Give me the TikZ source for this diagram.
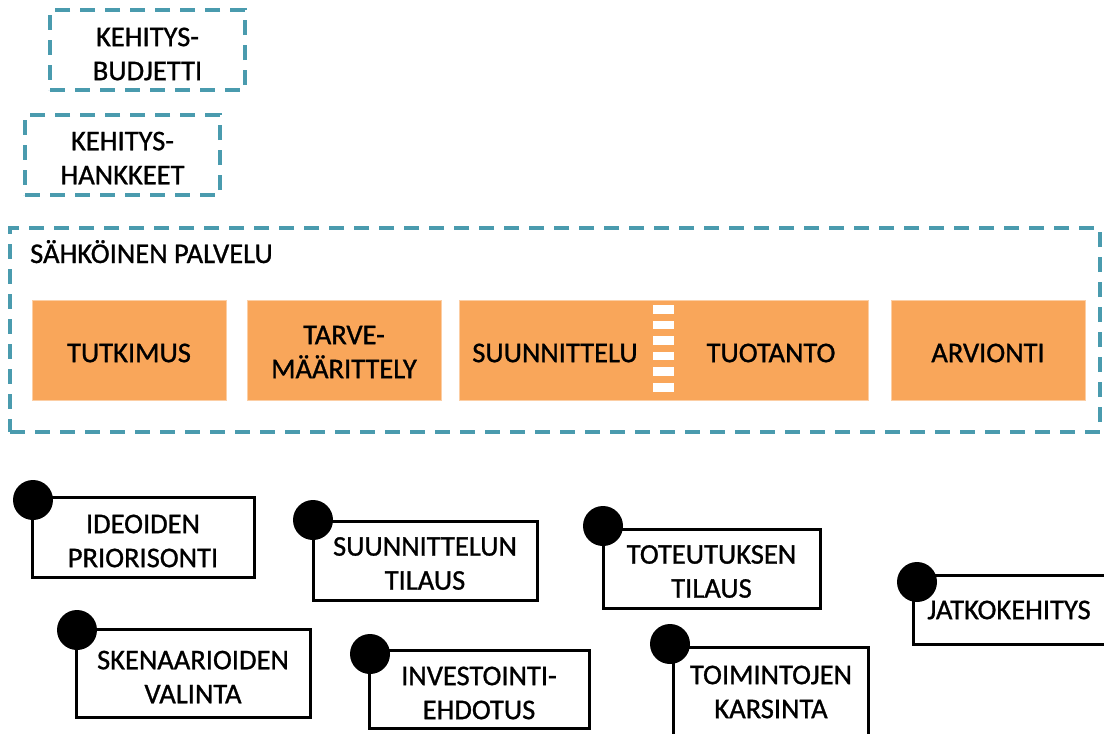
\documentclass[tikz,border=0pt]{standalone}
\usepackage{fontspec}
\setmainfont{Carlito}[FakeBold=1]
\definecolor{tealdash}{RGB}{74,155,174}
\definecolor{orng}{RGB}{249,166,90}
\begin{document}
\begin{tikzpicture}[x=1pt,y=-1pt,
 dbox/.style={draw=tealdash, line width=3.5pt, dash pattern=on 15pt off 10pt, inner sep=0pt},
 obox/.style={fill=orng, draw=orng!55!white, line width=0.8pt, inner sep=0pt},
 bbox/.style={draw=black, line width=3pt, inner sep=0pt},
 dot/.style={circle, fill=black, minimum size=40pt, inner sep=0pt},
 txt/.style={align=center, font=\fontsize{28.5}{34}\selectfont, inner sep=0pt},
 sep/.style={fill=white, draw=none},
]
\useasboundingbox (0,0) rectangle (1104,734);
\clip (0,0) rectangle (1104,734);

% top dashed boxes
\node[dbox, minimum width=195pt, minimum height=80pt] (kb) at (147.5,50) {};
\node[txt] (kbt) at ([yshift=-4pt]kb.center) {KEHITYS-\\BUDJETTI};
\node[dbox, minimum width=195pt, minimum height=80pt] (kh) at (122.5,155) {};
\node[txt] (kht) at ([yshift=-3pt]kh.center) {KEHITYS-\\HANKKEET};

% big service box
\node[dbox, minimum width=1090pt, minimum height=204pt] (sp) at (555,330) {};
\node[txt, anchor=base west] (spt) at (30,263) {SÄHKÖINEN PALVELU};

% orange phases
\node[obox, minimum width=194pt, minimum height=100pt] (tu) at (129,350) {};
\node[txt] (tut) at ([yshift=-3pt]tu.center) {TUTKIMUS};
\node[obox, minimum width=194pt, minimum height=100pt] (ta) at (344,350) {};
\node[txt] (tat) at ([yshift=-2pt]ta.center) {TARVE-\\MÄÄRITTELY};
\node[obox, minimum width=409pt, minimum height=100pt] (st) at (663.5,350) {};
\node[txt] (stt1) at (555,353) {SUUNNITTELU};
\node[txt] (stt2) at (771,353) {TUOTANTO};
\foreach \i in {0,...,5}
  \fill[sep] (653,{305+15.6*\i}) rectangle (674,{313.5+15.6*\i});
\node[obox, minimum width=194pt, minimum height=100pt] (ar) at (988,350) {};
\node[txt] (art) at ([yshift=-3pt]ar.center) {ARVIONTI};

% decision boxes
\node[bbox, minimum width=222pt, minimum height=80pt] (b1) at (143,537) {};
\node[txt] (t1) at ([yshift=-4pt]b1.center) {IDEOIDEN\\PRIORISONTI};
\node[bbox, minimum width=234pt, minimum height=88pt] (b2) at (193,673) {};
\node[txt] (t2) at ([yshift=-4pt]b2.center) {SKENAARIOIDEN\\VALINTA};
\node[bbox, minimum width=224pt, minimum height=79pt] (b3) at (425,560.5) {};
\node[txt] (t3) at ([yshift=-3pt]b3.center) {SUUNNITTELUN\\TILAUS};
\node[bbox, minimum width=217pt, minimum height=79pt] (b4) at (711.5,568.5) {};
\node[txt] (t4) at ([yshift=-3pt]b4.center) {TOTEUTUKSEN\\TILAUS};
\node[bbox, minimum width=220pt, minimum height=78pt] (b5) at (479,689) {};
\node[txt] (t5) at ([yshift=-4pt]b5.center) {INVESTOINTI-\\EHDOTUS};

\coordinate (b6bl) at (673,760);
\coordinate (b6tr) at (868,647);
\draw[line width=3pt] (b6bl) |- (b6tr) -- (868,760);
\node[txt] (t6) at (771,692) {TOIMINTOJEN\\KARSINTA};

\coordinate (b7tr) at (1120,575);
\coordinate (b7br) at (1120,644);
\draw[line width=3pt] (b7tr) -| (913,644) -- (b7br);
\node[txt] (t7) at (1009,610) {JATKOKEHITYS};

% dots
\node[dot] (d1) at (33,500) {};
\node[dot] (d2) at (77,630) {};
\node[dot] (d3) at (313,520) {};
\node[dot] (d4) at (603,526) {};
\node[dot] (d5) at (370,654) {};
\node[dot] (d6) at (670,644) {};
\node[dot] (d7) at (917,582) {};
\end{tikzpicture}
\end{document}
